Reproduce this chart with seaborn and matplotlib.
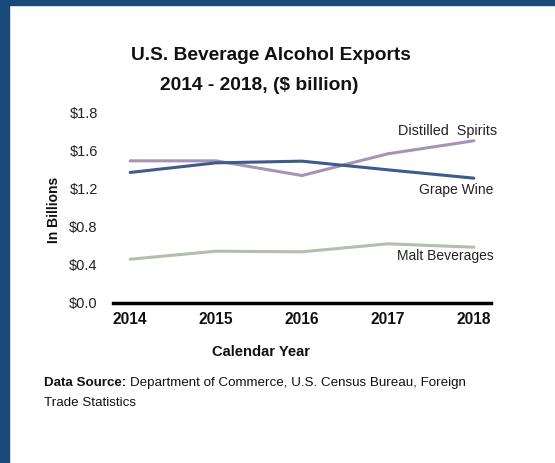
import matplotlib
matplotlib.use("Agg")
import matplotlib.pyplot as plt
import seaborn as sns
import pandas as pd
import numpy as np
from matplotlib.patches import Rectangle

years = ["2014", "2015", "2016", "2017", "2018"]
distilled_spirits = [1.342, 1.342, 1.203, 1.409, 1.532]
grape_wine = [1.232, 1.323, 1.339, 1.257, 1.178]
malt_beverages = [0.410, 0.486, 0.480, 0.556, 0.524]
series_names = ["Distilled  Spirits", "Grape Wine", "Malt Beverages"]
ytick_labels = ["$0.0", "$0.4", "$0.8", "$1.2", "$1.6", "$1.8"]

sns.set_theme(style="white")
plt.rcParams["font.family"] = ["Liberation Sans", "DejaVu Sans"]

df = pd.DataFrame({
    "Year": list(range(len(years))) * 3,
    "Value": distilled_spirits + grape_wine + malt_beverages,
    "Series": [series_names[0]] * 5 + [series_names[1]] * 5 + [series_names[2]] * 5,
})
palette = {series_names[0]: "#A594B5", series_names[1]: "#3F5A8C", series_names[2]: "#AFC0AB"}

W, H = 555, 463
fig = plt.figure(figsize=(W / 100, H / 100), dpi=100)
fig.patch.set_facecolor("white")
fig.add_artist(Rectangle((0, 0), 9 / W, 1, transform=fig.transFigure, color="#17497A", zorder=0))
fig.add_artist(Rectangle((0, 1 - 5 / H), 1, 5 / H, transform=fig.transFigure, color="#17497A", zorder=0))

ax = fig.add_axes([113 / W, 160.5 / H, 378 / W, 190 / H])
sns.lineplot(data=df, x="Year", y="Value", hue="Series", palette=palette, linewidth=2.2,
             legend=False, ax=ax)
ax.set_xlim(-0.2, 4.2)
ax.set_ylim(0, 1.8)
ax.set_yticks(np.linspace(0, 1.8, 6))
ax.set_yticklabels(ytick_labels, fontsize=10.5, color="#222222")
ax.set_xticks(range(len(years)))
ax.set_xticklabels(years, fontsize=11.2, fontweight="bold", color="#111111")
ax.tick_params(axis="y", length=0, pad=11)
ax.tick_params(axis="x", length=0, pad=7)
for s in ["top", "right", "left"]:
    ax.spines[s].set_visible(False)
ax.spines["bottom"].set_color("black")
ax.spines["bottom"].set_linewidth(2.5)
ax.set_xlabel("Calendar Year", fontsize=10.6, fontweight="bold", color="#111111")
ax.xaxis.set_label_coords((261 - 113) / 378, -(352 - 302.5) / 190)
ax.xaxis.label.set_va("center")
ax.set_ylabel("In Billions", fontsize=10, fontweight="bold", color="#111111")
ax.yaxis.set_label_coords((54 - 113) / 378, (302.5 - 210) / 190)
ax.yaxis.label.set_va("center")
ax.grid(False)

def ypix(p):
    return (302.5 - p) / 190 * 1.8

ax.text(4.27, ypix(130.7), series_names[0], ha="right", va="center", fontsize=10.4, color="#222222")
ax.text(4.23, ypix(190), series_names[1], ha="right", va="center", fontsize=10, color="#222222")
ax.text(4.23, ypix(256), series_names[2], ha="right", va="center", fontsize=10, color="#222222")

fig.text(271 / W, 1 - 56 / H, "U.S. Beverage Alcohol Exports", ha="center", va="center",
         fontsize=13.8, fontweight="bold", color="#111111")
fig.text(259.5 / W, 1 - 85 / H, "2014 - 2018, ($ billion)", ha="center", va="center",
         fontsize=13.8, fontweight="bold", color="#111111")

src_fs = 9.6
t1 = fig.text(44 / W, 1 - 383 / H, "Data Source:", ha="left", va="center", fontsize=src_fs,
              fontweight="bold", color="#111111")
fig.canvas.draw()
bb = t1.get_window_extent(renderer=fig.canvas.get_renderer())
fig.text((bb.x1 + 4) / W, 1 - 383 / H, "Department of Commerce, U.S. Census Bureau, Foreign",
         ha="left", va="center", fontsize=src_fs, color="#111111")
fig.text(44 / W, 1 - 403 / H, "Trade Statistics", ha="left", va="center", fontsize=src_fs, color="#111111")

fig.savefig("out.png", dpi=100)
